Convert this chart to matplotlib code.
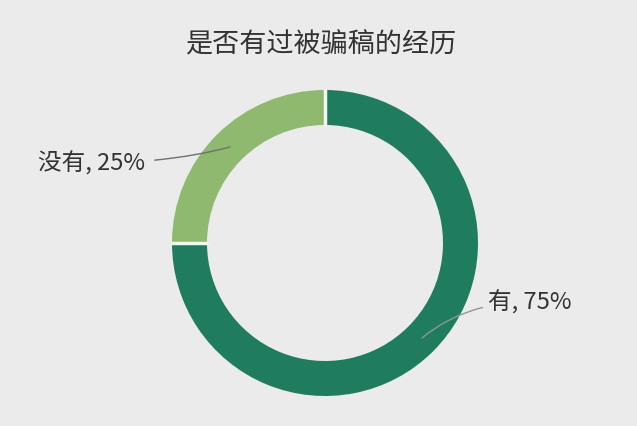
import numpy as np
import matplotlib.pyplot as plt

plt.rcParams['font.family'] = ['Noto Sans CJK SC', 'DejaVu Sans']

title = "是否有过被骗稿的经历"
labels = ["有", "没有"]
values = [75, 25]
colors = ["#1f7c5f", "#8fb96f"]

W, H = 637, 426
fig = plt.figure(figsize=(W / 100, H / 100), dpi=100, facecolor="#ebebeb")
ax = fig.add_axes([0, 0, 1, 1])
ax.set_facecolor("#ebebeb")

cx, cy = 325, H - 243
r = 153
ring = 35
wedges, _ = ax.pie(values, colors=colors, startangle=90, counterclock=False,
                   center=(cx, cy), radius=r,
                   wedgeprops=dict(width=ring, edgecolor="none"))

# white separators between slices
for w in wedges:
    a = np.deg2rad(w.theta1)
    ax.plot([cx + (r - ring - 1) * np.cos(a), cx + (r + 1) * np.cos(a)],
            [cy + (r - ring - 1) * np.sin(a), cy + (r + 1) * np.sin(a)],
            color="#f4f6f2", lw=2.5, solid_capstyle="butt")

ax.set_xlim(0, W)
ax.set_ylim(0, H)
ax.set_aspect("equal")
ax.axis("off")

# labels with leader lines
ax.annotate(f"{labels[0]}, {values[0]}%", xy=(422, H - 338), xytext=(488, H - 302),
            fontsize=17, color="#333333", va="center", ha="left",
            arrowprops=dict(arrowstyle="-", color="#8a9a92", lw=1,
                            connectionstyle="angle3,angleA=0,angleB=40",
                            shrinkA=2, shrinkB=0))
ax.annotate(f"{labels[1]}, {values[1]}%", xy=(230, H - 147), xytext=(145, H - 163),
            fontsize=17, color="#333333", va="center", ha="right",
            arrowprops=dict(arrowstyle="-", color="#707070", lw=1,
                            connectionstyle="angle3,angleA=0,angleB=15",
                            shrinkA=5, shrinkB=0))

ax.text(321, H - 45, title, fontsize=19.5, color="#333333", ha="center", va="center")

fig.savefig("out.png", dpi=100, facecolor=fig.get_facecolor())
